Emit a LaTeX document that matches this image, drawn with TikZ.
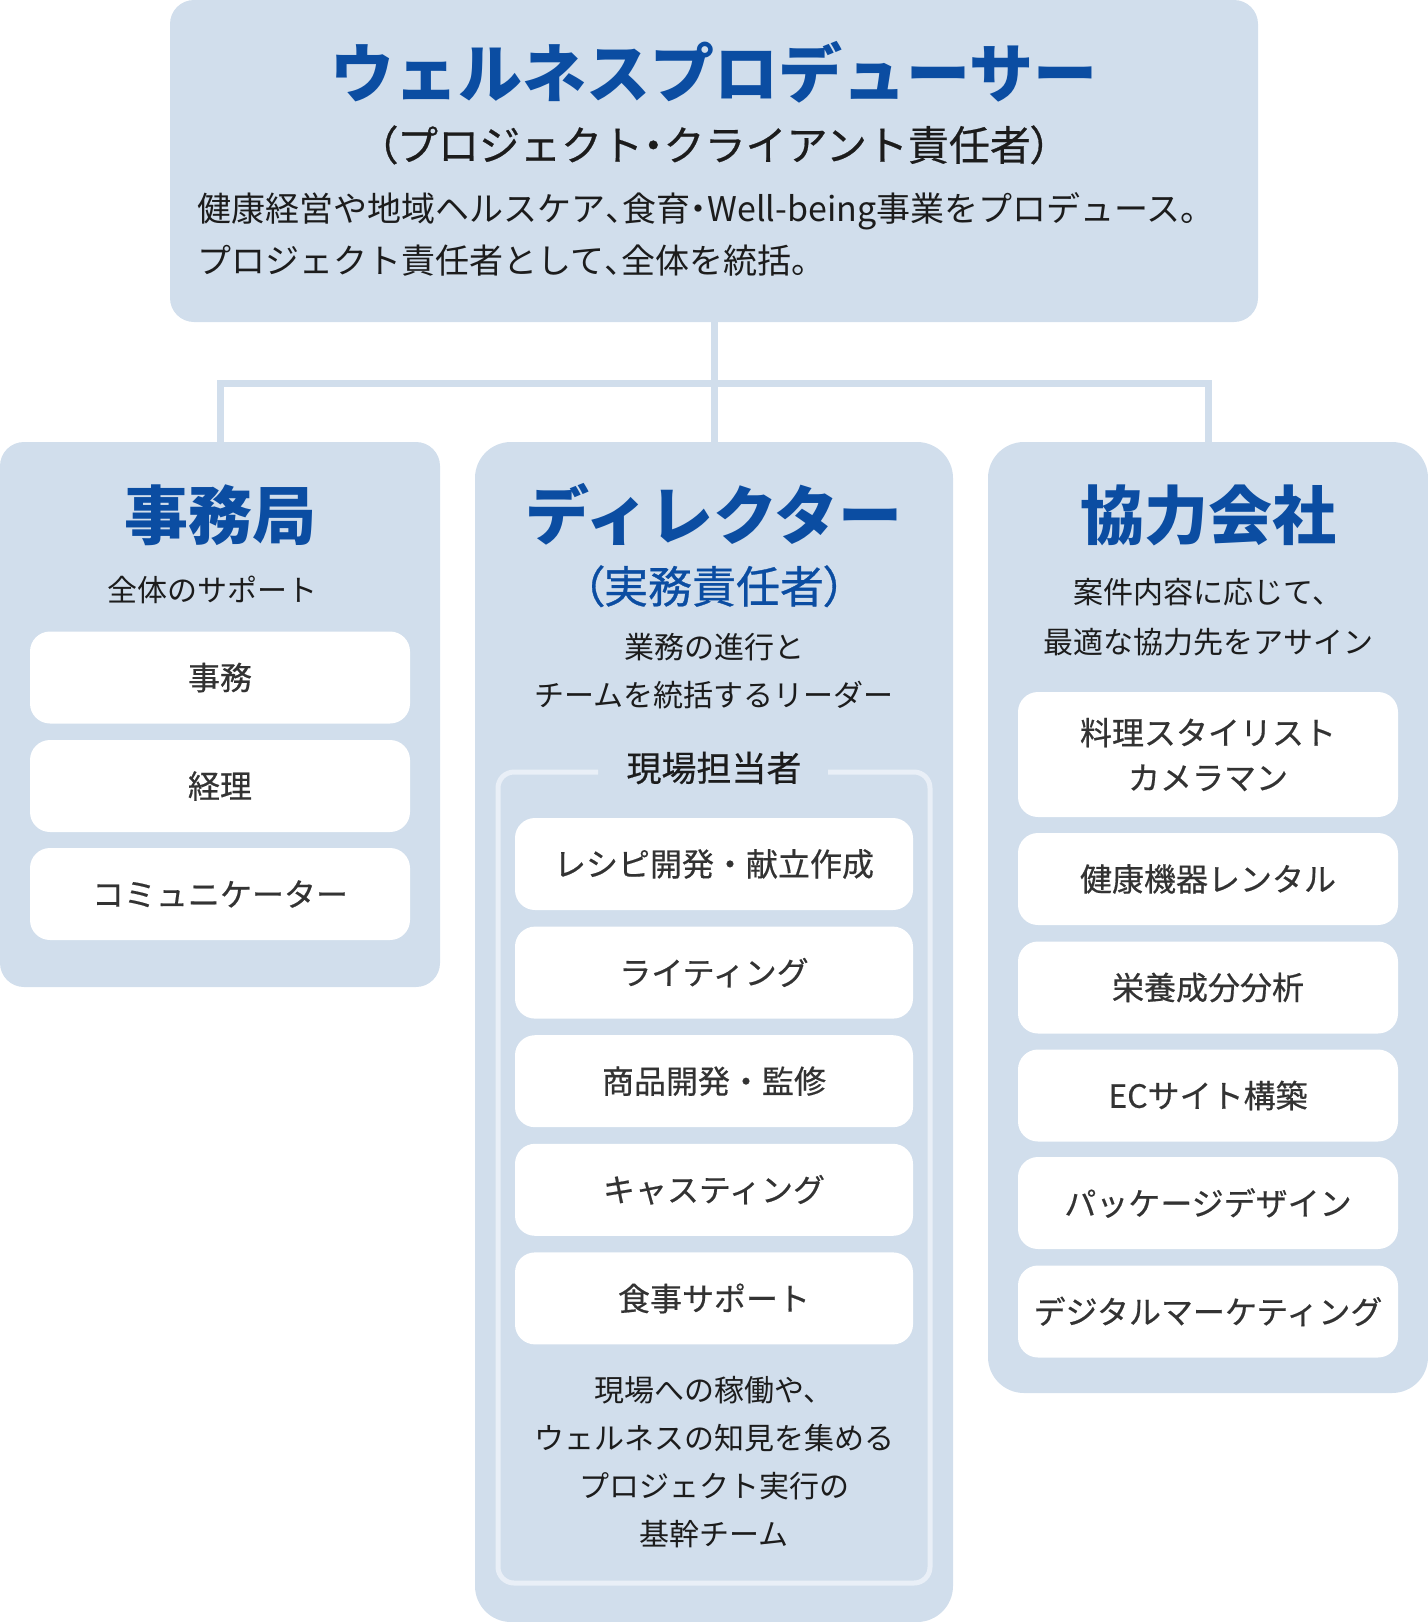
\documentclass[tikz,border=0pt]{standalone}
\usepackage{fontspec}
\usepackage{tikz}
\newfontfamily\jp{Noto Sans CJK JP}
\newfontfamily\jpp[RawFeature=+palt]{Noto Sans CJK JP}
\newfontfamily\jpm[FakeBold=0.5]{Noto Sans CJK JP}
\newfontfamily\jppm[RawFeature=+palt,FakeBold=0.7]{Noto Sans CJK JP}
\definecolor{panel}{HTML}{D1DEEC}
\definecolor{frameline}{HTML}{E9EFF7}
\definecolor{headblue}{HTML}{0B4DA2}
\definecolor{ink}{HTML}{1C1C1C}
\definecolor{boxink}{HTML}{333333}
% half-width punctuation
\newcommand{\halfp}[1]{{\jpp #1}}
\newcommand{\halfpm}[1]{{\jppm #1}}

\begin{document}
\begin{tikzpicture}[x=0.5pt,y=-0.5pt]
	\def \headrow{515}
	\def \barrow{383}
	\def \colLx{220}
	\def \colMx{714}
	\def \colRx{1208}
	\tikzstyle{panel-node}=[fill=panel,inner sep=0pt,rounded corners=18pt]
	\tikzstyle{item-node}=[fill=white,inner sep=0pt,rounded corners=10pt,text=boxink,align=center,font=\jpm\fontsize{16}{22.5}\selectfont]
	\tikzstyle{head-node}=[inner sep=0pt,text=headblue,text height=28pt,text depth=4pt,font=\jp\bfseries\fontsize{32}{38}\selectfont]
	\tikzstyle{sub-node}=[inner sep=0pt,text height=18pt,text depth=2.5pt,font=\jpm\fontsize{20.5}{24}\selectfont]
	\tikzstyle{note-node}=[inner sep=0pt,text=ink,align=center,font=\jp\fontsize{15}{24}\selectfont]
	\tikzstyle{link}=[draw=panel,line width=3.5pt,line join=miter]
	\useasboundingbox (0,0) rectangle (1428,1622);

	% panels
	\node[panel-node,rounded corners=12pt,minimum width=544pt,minimum height=161pt] (top) at (\colMx,161) {};
	\node[panel-node,rounded corners=12pt,minimum width=220pt,minimum height=272.5pt] (colL) at (\colLx,714.5) {};
	\node[panel-node,minimum width=239pt,minimum height=590pt] (colM) at (\colMx,1032) {};
	\node[panel-node,minimum width=220pt,minimum height=475.5pt] (colR) at (\colRx,917.5) {};

	% connectors
	\coordinate (bar) at (\colMx,\barrow);
	\draw[link] (top.south) -- (colM.north);
	\draw[link] (colL.north) |- (bar) -| (colR.north);

	% producer
	\node[head-node] (prodttl) at (\colMx,73) {ウェルネスプロデューサー};
	\node[sub-node,text=ink] (prodsub) at (\colMx,145) {\halfpm{（}プロジェクト\halfpm{・}クライアント責任者\halfpm{）}};
	\node[inner sep=0pt,anchor=west,align=left,text=ink,font=\jp\fontsize{17}{26}\selectfont] (proddesc) at (197,234)
		{健康経営や地域ヘルスケア\halfp{、}食育\halfp{・}Well-being事業をプロデュース。\\プロジェクト責任者として\halfp{、}全体を統括。};

	% office
	\node[head-node] (offttl) at (\colLx,\headrow) {事務局};
	\node[note-node] (offnote) at (212,590) {全体のサポート};
	\node[item-node,minimum width=190pt,minimum height=46pt] (off0) at (\colLx,677.5) {事務};
	\node[item-node,minimum width=190pt,minimum height=46pt] (off1) at (\colLx,786) {経理};
	\node[item-node,minimum width=190pt,minimum height=46pt] (off2) at (\colLx,894) {コミュニケーター};

	% director
	\node[head-node] (dirttl) at (\colMx,\headrow) {ディレクター};
	\node[sub-node,text=headblue,text height=19pt,text depth=3pt,font=\jppm\fontsize{22}{26}\selectfont] (dirsub) at (\colMx,587) {（実務責任者）};
	\node[note-node] (dirnote) at (\colMx,671) {業務の進行と\\チームを統括するリーダー};
	\node[inner sep=0pt,text=ink,font=\jpm\fontsize{17.5}{22}\selectfont] (staff) at (\colMx,768) {現場担当者};
	\draw[draw=frameline,line width=2.5pt,rounded corners=8pt] (598,772) -- (498,772) -- (498,1583) -- (930,1583) -- (930,772) -- (828,772);
	\node[item-node,minimum width=199pt,minimum height=46pt] (dir0) at (\colMx,864) {レシピ開発・献立作成};
	\node[item-node,minimum width=199pt,minimum height=46pt] (dir1) at (\colMx,972.6) {ライティング};
	\node[item-node,minimum width=199pt,minimum height=46pt] (dir2) at (\colMx,1081.2) {商品開発・監修};
	\node[item-node,minimum width=199pt,minimum height=46pt] (dir3) at (\colMx,1189.8) {キャスティング};
	\node[item-node,minimum width=199pt,minimum height=46pt] (dir4) at (\colMx,1298.4) {食事サポート};
	\node[note-node] (staffnote) at (\colMx,1462) {現場への稼働や、\\ウェルネスの知見を集める\\プロジェクト実行の\\基幹チーム};

	% partners
	\node[head-node] (parttl) at (\colRx,\headrow) {協力会社};
	\node[note-node,font=\jp\fontsize{15}{25}\selectfont] (parnote) at (\colRx,617) {案件内容に応じて、\\最適な協力先をアサイン};
	\node[item-node,minimum width=190pt,minimum height=62.5pt] (par0) at (\colRx,754.5) {料理スタイリスト\\カメラマン};
	\node[item-node,minimum width=190pt,minimum height=46pt] (par1) at (\colRx,879) {健康機器レンタル};
	\node[item-node,minimum width=190pt,minimum height=46pt] (par2) at (\colRx,987.5) {栄養成分分析};
	\node[item-node,minimum width=190pt,minimum height=46pt] (par3) at (\colRx,1095.5) {ECサイト構築};
	\node[item-node,minimum width=190pt,minimum height=46pt] (par4) at (\colRx,1203) {パッケージデザイン};
	\node[item-node,minimum width=190pt,minimum height=46pt] (par5) at (\colRx,1311.5) {デジタルマーケティング};
\end{tikzpicture}
\end{document}
